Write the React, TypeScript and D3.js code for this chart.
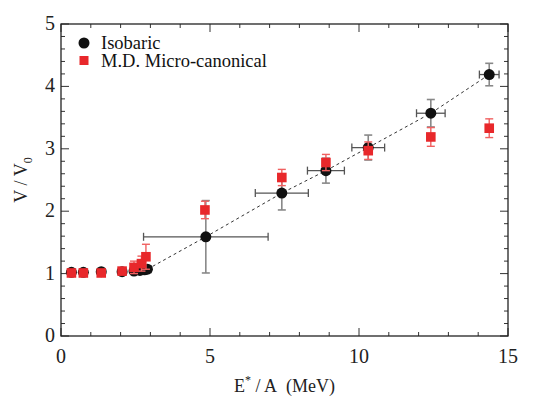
import React from 'react';
import * as d3 from 'd3';

// Isobaric calculation: E*/A, V/V0 and their uncertainties
const isoE = [0.35, 0.75, 1.35, 2.05, 2.45, 2.65, 2.8, 2.9, 4.86, 7.41, 8.89, 10.31, 12.41, 14.37];
const isoV = [1.02, 1.02, 1.03, 1.03, 1.04, 1.05, 1.06, 1.07, 1.59, 2.29, 2.65, 3.02, 3.57, 4.19];
const isoEErr = [0, 0, 0, 0, 0, 0, 0, 0.12, 2.09, 0.89, 0.62, 0.55, 0.48, 0.33];
const isoVErr = [0.01, 0.01, 0.01, 0.01, 0.02, 0.02, 0.03, 0.03, 0.58, 0.27, 0.2, 0.2, 0.22, 0.18];

// Molecular dynamics, micro-canonical
const mdE = [0.35, 0.75, 1.35, 2.05, 2.45, 2.7, 2.85, 4.83, 7.41, 8.89, 10.31, 12.41, 14.37];
const mdV = [1.01, 1.01, 1.01, 1.04, 1.1, 1.16, 1.27, 2.02, 2.54, 2.78, 2.97, 3.19, 3.33];
const mdVErr = [0.03, 0.03, 0.03, 0.05, 0.1, 0.12, 0.2, 0.14, 0.13, 0.13, 0.14, 0.15, 0.15];

const xTicks = [0, 5, 10, 15];
const yTicks = [0, 1, 2, 3, 4, 5];
const legendLabels = ['Isobaric', 'M.D. Micro-canonical'];

// first isobaric point of the linear branch
const fitStart = 7;

const W = 546;
const H = 406;
const margin = { top: 24, right: 38, bottom: 70, left: 61 };
const FONT = "'Liberation Serif', 'Times New Roman', serif";

export default function App() {
  const x = d3.scaleLinear().domain([0, 15]).range([margin.left, W - margin.right]);
  const y = d3.scaleLinear().domain([0, 5]).range([H - margin.bottom, margin.top]);
  const [x0, x1] = x.range();
  const [y0, y1] = y.range();

  const xMinor = d3.range(0, 15.01, 1);
  const yMinor = d3.range(0, 5.01, 0.2);

  const iso = isoE.map((e, i) => ({ e, v: isoV[i], ee: isoEErr[i], ve: isoVErr[i] }));
  const md = mdE.map((e, i) => ({ e, v: mdV[i], ve: mdVErr[i] }));

  const fitLine = d3
    .line<{ e: number; v: number }>()
    .x((d) => x(d.e))
    .y((d) => y(d.v))(iso.slice(fitStart));

  const cap = 4;

  return (
    <svg
      width={W}
      height={H}
      style={{ position: 'absolute', left: 0, top: 0, background: '#fff', fontFamily: FONT }}
    >
      {/* minor and major ticks on all four sides */}
      <g stroke="#333" strokeWidth={1}>
        {xMinor.map((t) => {
          const len = t % 5 === 0 ? 8 : 4;
          return (
            <g key={'xt' + t}>
              <line x1={x(t)} x2={x(t)} y1={y0} y2={y0 - len} />
              <line x1={x(t)} x2={x(t)} y1={y1} y2={y1 + len} />
            </g>
          );
        })}
        {yMinor.map((t) => {
          const len = Math.abs(t - Math.round(t)) < 1e-6 ? 8 : 4;
          return (
            <g key={'yt' + t.toFixed(1)}>
              <line x1={x0} x2={x0 + len} y1={y(t)} y2={y(t)} />
              <line x1={x1} x2={x1 - len} y1={y(t)} y2={y(t)} />
            </g>
          );
        })}
      </g>

      {/* tick labels */}
      <g fontSize={20} fill="#222">
        {xTicks.map((t) => (
          <text key={'xl' + t} x={x(t)} y={y0 + 27} textAnchor="middle">
            {t}
          </text>
        ))}
        {yTicks.map((t) => (
          <text key={'yl' + t} x={x0 - 6} y={y(t) + 6} textAnchor="end">
            {t}
          </text>
        ))}
      </g>

      {/* axis titles */}
      <text x={(x0 + x1) / 2} y={392} textAnchor="middle" fontSize={18} fill="#222">
        E<tspan dy={-8} fontSize={12}>*</tspan>
        <tspan dy={8}>{' / A\u00a0 (MeV)'}</tspan>
      </text>
      <text
        transform={`translate(27,${(y0 + y1) / 2}) rotate(-90)`}
        textAnchor="middle"
        fontSize={18}
        fill="#222"
      >
        V / V<tspan dy={5} fontSize={12}>0</tspan>
      </text>

      {/* linear fit through the isobaric branch */}
      <path d={fitLine ?? ''} fill="none" stroke="#333" strokeWidth={1} strokeDasharray="3,3" />

      {/* isobaric error bars */}
      <g>
        {iso.map((d, i) => (
          <g key={'ie' + i}>
            {d.ee > 0 && (
              <g stroke="#555" strokeWidth={1.3}>
                <line x1={x(d.e - d.ee)} x2={x(d.e + d.ee)} y1={y(d.v)} y2={y(d.v)} />
                <line x1={x(d.e - d.ee)} x2={x(d.e - d.ee)} y1={y(d.v) - cap} y2={y(d.v) + cap} />
                <line x1={x(d.e + d.ee)} x2={x(d.e + d.ee)} y1={y(d.v) - cap} y2={y(d.v) + cap} />
              </g>
            )}
            <g stroke="#888" strokeWidth={1.6}>
              <line x1={x(d.e)} x2={x(d.e)} y1={y(d.v - d.ve)} y2={y(d.v + d.ve)} />
              <line x1={x(d.e) - cap} x2={x(d.e) + cap} y1={y(d.v - d.ve)} y2={y(d.v - d.ve)} />
              <line x1={x(d.e) - cap} x2={x(d.e) + cap} y1={y(d.v + d.ve)} y2={y(d.v + d.ve)} />
            </g>
          </g>
        ))}
      </g>

      {/* isobaric points */}
      <g fill="#111">
        {iso.map((d, i) => (
          <circle key={'ic' + i} cx={x(d.e)} cy={y(d.v)} r={5.5} />
        ))}
      </g>

      {/* micro-canonical error bars and points */}
      <g stroke="#f06060" strokeWidth={1.4}>
        {md.map((d, i) => (
          <g key={'me' + i}>
            <line x1={x(d.e)} x2={x(d.e)} y1={y(d.v - d.ve)} y2={y(d.v + d.ve)} />
            <line x1={x(d.e) - cap} x2={x(d.e) + cap} y1={y(d.v - d.ve)} y2={y(d.v - d.ve)} />
            <line x1={x(d.e) - cap} x2={x(d.e) + cap} y1={y(d.v + d.ve)} y2={y(d.v + d.ve)} />
          </g>
        ))}
      </g>
      <g fill="#e8282b">
        {md.map((d, i) => (
          <rect key={'mr' + i} x={x(d.e) - 4.8} y={y(d.v) - 4.8} width={9.6} height={9.6} />
        ))}
      </g>

      {/* frame */}
      <rect x={x0} y={y1} width={x1 - x0} height={y0 - y1} fill="none" stroke="#222" strokeWidth={1.3} />

      {/* legend */}
      <g fontSize={18.5} fill="#111">
        <circle cx={84} cy={43} r={5.5} fill="#111" />
        <text x={101} y={49}>{legendLabels[0]}</text>
        <rect x={79.5} y={56} width={9} height={9} fill="#e8282b" />
        <text x={101} y={67}>{legendLabels[1]}</text>
      </g>
    </svg>
  );
}
